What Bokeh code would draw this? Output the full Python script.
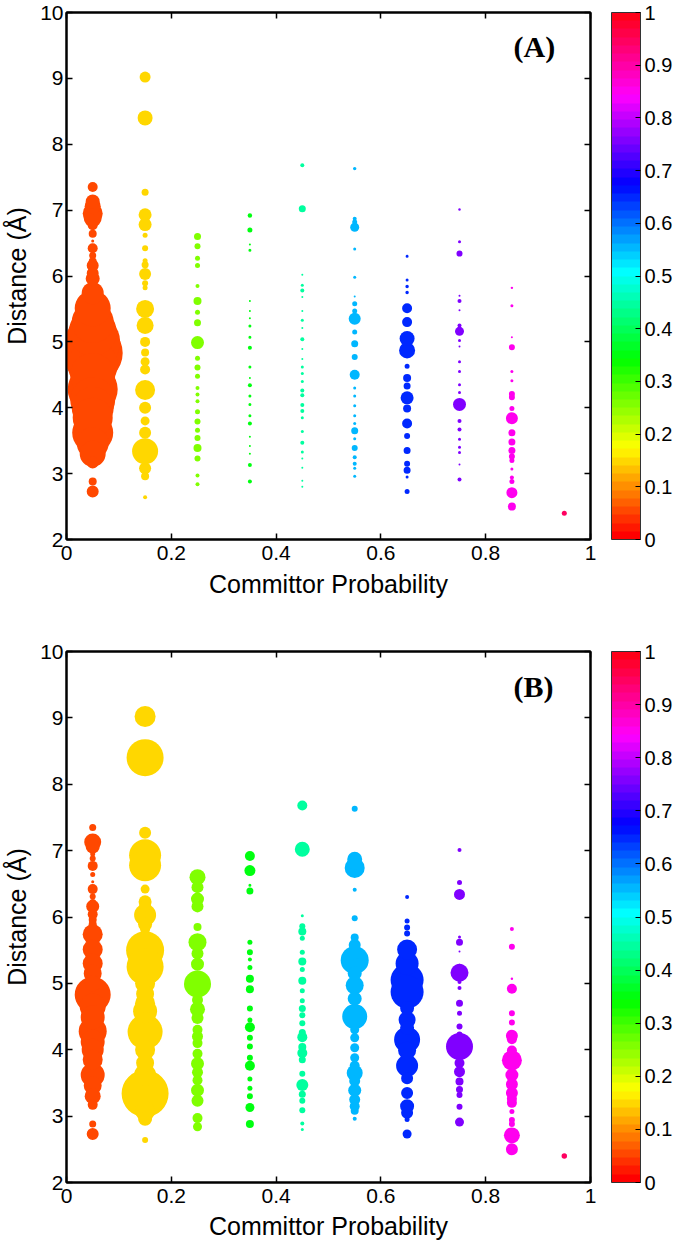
import colorsys
from bokeh.plotting import figure
from bokeh.models import (ColumnDataSource, Range1d, LinearAxis, FixedTicker,
                          CustomJSTickFormatter, LinearColorMapper, ColorBar, Label,
                          CustomLabelingPolicy)
from bokeh.layouts import column
from bokeh.transform import linear_cmap
from bokeh.embed import file_html
from bokeh.resources import INLINE

# ---------------- data ----------------
committor_bins = [0.05, 0.15, 0.25, 0.35, 0.45, 0.55, 0.65, 0.75, 0.85, 0.95]

dist_05 = [7.35, 7.13, 7.06, 6.95, 6.88, 6.77, 6.64, 6.53, 6.42, 6.31, 6.22, 6.16, 6.04, 5.96, 5.89, 5.74,
           5.51, 5.30, 5.15, 5.00, 4.83, 4.65, 4.49, 4.28, 4.12, 4.00, 3.85, 3.62, 3.46, 3.30, 3.17, 2.88, 2.73]
pop_a_05 = [100, 196, 256, 400, 324, 100, 64, 9, 100, 49, 64, 144, 144, 196, 36, 484,
            1296, 1764, 2304, 3025, 3600, 2500, 2025, 2500, 2025, 1764, 1600, 1681, 1024, 676, 144, 64, 144]
pop_b_05 = [49, 289, 196, 25, 36, 100, 25, 9, 100, 36, 49, 169, 100, 64, 64, 400,
            400, 400, 324, 256, 1296, 676, 576, 784, 576, 484, 400, 576, 324, 256, 100, 49, 144]

dist_15 = [9.02, 8.40, 7.27, 6.93, 6.78, 6.62, 6.42, 6.23, 6.17, 6.03, 5.89, 5.82, 5.50, 5.25, 5.00, 4.84,
           4.70, 4.58, 4.27, 4.00, 3.80, 3.62, 3.34, 3.08, 2.96, 2.64]
pop_a_15 = [121, 225, 49, 169, 169, 25, 36, 25, 49, 144, 36, 25, 324, 289, 100, 64,
            81, 100, 400, 144, 81, 144, 676, 144, 64, 16]
pop_b_15 = [441, 1369, 144, 1024, 1024, 64, 81, 169, 144, 484, 196, 100, 1444, 1369, 400, 324,
            400, 576, 1225, 400, 324, 484, 2209, 400, 196, 36]

dist_25 = [6.60, 6.45, 6.27, 6.16, 5.85, 5.62, 5.45, 5.29, 4.99, 4.75, 4.61, 4.48, 4.30, 4.20, 4.10, 3.94,
           3.79, 3.66, 3.54, 3.39, 3.23, 2.97, 2.84]
pop_a_25 = [49, 36, 25, 25, 16, 64, 25, 49, 169, 25, 36, 25, 16, 16, 16, 25, 36, 25, 36, 64, 36, 16, 16]
pop_b_25 = [256, 144, 169, 144, 64, 324, 144, 169, 729, 121, 225, 144, 100, 121, 100, 100,
            169, 121, 100, 169, 144, 100, 81]

dist_35 = [6.92, 6.70, 6.48, 6.39, 5.62, 5.47, 5.36, 5.24, 5.07, 4.91, 4.62, 4.45, 4.34, 4.18, 4.05, 3.88,
           3.76, 3.56, 3.42, 3.30, 3.13, 2.88]
pop_a_35 = [20, 25, 4, 9, 4, 4, 4, 9, 9, 16, 9, 4, 16, 9, 9, 9, 16, 4, 4, 4, 16, 16]
pop_b_35 = [100, 121, 9, 49, 25, 36, 16, 25, 64, 64, 36, 25, 100, 36, 36, 36, 100, 25, 25, 36, 81, 64]

dist_45 = [7.68, 7.02, 6.02, 5.86, 5.78, 5.68, 5.47, 5.33, 5.21, 5.04, 4.89, 4.74, 4.62, 4.52, 4.40, 4.26,
           4.19, 4.04, 3.95, 3.85, 3.64, 3.47, 3.33, 3.23, 3.09, 2.89, 2.80]
pop_a_45 = [16, 49, 4, 9, 16, 4, 4, 9, 4, 16, 4, 4, 9, 9, 9, 16, 16, 16, 16, 9, 9, 16, 9, 4, 4, 4, 4]
pop_b_45 = [100, 225, 9, 36, 64, 25, 25, 64, 25, 64, 25, 25, 49, 36, 36, 49,
            100, 64, 100, 49, 36, 144, 49, 36, 36, 16, 9]

dist_55 = [7.63, 6.87, 6.82, 6.74, 6.41, 5.98, 5.69, 5.58, 5.47, 5.35, 5.15, 4.97, 4.77, 4.50, 4.30, 4.18,
           4.03, 3.88, 3.76, 3.65, 3.53, 3.39, 3.25, 3.15, 3.08, 2.96]
pop_a_55 = [12, 16, 25, 81, 9, 9, 4, 25, 25, 144, 25, 49, 36, 100, 9, 9, 9, 9, 9, 49, 9, 36, 16, 16, 9, 9]
pop_b_55 = [36, 225, 196, 400, 16, 36, 64, 144, 196, 784, 196, 324, 196, 625, 81, 81,
            81, 81, 100, 256, 121, 169, 121, 100, 64, 16]

dist_65 = [6.30, 5.94, 5.84, 5.75, 5.51, 5.30, 5.05, 4.87, 4.63, 4.45, 4.33, 4.15, 3.99, 3.76, 3.57, 3.35,
           3.15, 3.05, 2.95, 2.73]
pop_a_65 = [9, 9, 12, 12, 100, 100, 225, 256, 25, 64, 49, 169, 64, 100, 36, 49, 36, 49, 9, 25]
pop_b_65 = [16, 25, 36, 36, 400, 529, 1089, 1089, 196, 289, 196, 676, 324, 484, 144, 144, 196, 144, 25, 81]

dist_75 = [7.01, 6.52, 6.34, 5.70, 5.62, 5.48, 5.25, 5.16, 5.02, 4.93, 4.70, 4.55, 4.35, 4.23, 4.05, 3.80,
           3.67, 3.52, 3.40, 3.32, 3.14, 2.91]
pop_a_75 = [6, 9, 36, 4, 16, 4, 16, 81, 9, 4, 9, 9, 9, 9, 169, 16, 16, 9, 9, 9, 4, 16]
pop_b_75 = [16, 25, 121, 9, 49, 4, 36, 324, 16, 16, 49, 25, 36, 36, 729, 100, 121, 64, 49, 36, 36, 81]

dist_85 = [5.82, 5.55, 5.07, 4.92, 4.55, 4.41, 4.21, 4.16, 3.99, 3.84, 3.62, 3.48, 3.35, 3.26, 3.20, 3.07,
           2.94, 2.88, 2.71, 2.50]
pop_a_85 = [6, 9, 4, 36, 9, 9, 36, 36, 25, 144, 49, 49, 49, 36, 25, 9, 16, 25, 121, 64]
pop_b_85 = [16, 36, 6, 100, 36, 36, 144, 100, 100, 400, 169, 144, 144, 100, 100, 25, 36, 36, 256, 144]

dist_95 = [2.40]
pop_a_95 = [25]
pop_b_95 = [30]

x_ticks = [0, 0.2, 0.4, 0.6, 0.8, 1]
y_ticks = [2, 3, 4, 5, 6, 7, 8, 9, 10]
cbar_ticks = [0, 0.1, 0.2, 0.3, 0.4, 0.5, 0.6, 0.7, 0.8, 0.9, 1]

dists = [dist_05, dist_15, dist_25, dist_35, dist_45, dist_55, dist_65, dist_75, dist_85, dist_95]
pops_a = [pop_a_05, pop_a_15, pop_a_25, pop_a_35, pop_a_45, pop_a_55, pop_a_65, pop_a_75, pop_a_85, pop_a_95]
pops_b = [pop_b_05, pop_b_15, pop_b_25, pop_b_35, pop_b_45, pop_b_55, pop_b_65, pop_b_75, pop_b_85, pop_b_95]

# ---------------- styling ----------------
FONT = "Liberation Sans"
# MATLAB hsv(64) colormap
palette = []
for i in range(64):
    r, g, b = colorsys.hsv_to_rgb(i / 64.0, 1.0, 1.0)
    palette.append("#%02x%02x%02x" % (round(r * 255), round(g * 255), round(b * 255)))
mapper = LinearColorMapper(palette=palette, low=0, high=1)
fmt = CustomJSTickFormatter(code="return String(Math.round(tick*10)/10);")
no_fmt = CustomJSTickFormatter(code="return '';")
no_labels = CustomLabelingPolicy(code="for (const i of Array.from(indices)) { indices.unset(i) }")

FRAME_W = 524


def build_source(pops):
    xs, ys, ss = [], [], []
    for xb, d, pp in zip(committor_bins, dists, pops):
        for yv, pv in zip(d, pp):
            xs.append(xb)
            ys.append(yv)
            ss.append(pv ** 0.5)
    order = sorted(range(len(xs)), key=lambda k: -ss[k])
    return ColumnDataSource(dict(x=[xs[k] for k in order], y=[ys[k] for k in order],
                                 s=[ss[k] for k in order]))


def style_axis(ax, ticker, show_labels=True):
    ax.ticker = FixedTicker(ticks=ticker)
    ax.axis_line_color = "black"
    ax.axis_line_width = 2
    ax.major_tick_line_color = "black"
    ax.major_tick_line_width = 1.5
    ax.major_tick_in = 6
    ax.major_tick_out = 0
    ax.minor_tick_line_color = None
    if show_labels:
        ax.formatter = fmt
        ax.major_label_text_font = FONT
        ax.major_label_text_font_size = "21px"
        ax.major_label_text_color = "black"
    else:
        ax.formatter = no_fmt
        ax.major_label_policy = no_labels
        ax.major_label_text_font_size = "1px"
        ax.major_label_standoff = 0


def make_panel(pops, tag, frame_h, top_border, bottom_border, xlabel_standoff):
    p = figure(frame_width=FRAME_W, frame_height=frame_h, x_range=Range1d(0, 1), y_range=Range1d(2, 10),
               output_backend="svg", toolbar_location=None, min_border_left=57,
               min_border_top=top_border, min_border_bottom=bottom_border, min_border_right=83)
    p.background_fill_color = "white"
    p.border_fill_color = "white"
    p.outline_line_color = "black"
    p.outline_line_width = 2
    p.grid.visible = False

    src = build_source(pops)
    p.scatter("x", "y", size="s", source=src, line_color=None,
              fill_color=linear_cmap("x", palette, 0, 1))

    style_axis(p.xaxis[0], x_ticks)
    style_axis(p.yaxis[0], y_ticks)
    p.xaxis[0].major_label_standoff = 6
    p.yaxis[0].major_label_standoff = 3
    p.xaxis[0].axis_label = "Committor Probability"
    p.yaxis[0].axis_label = "Distance (Å)"
    for ax in (p.xaxis[0], p.yaxis[0]):
        ax.axis_label_text_font = FONT
        ax.axis_label_text_font_size = "25px"
        ax.axis_label_text_font_style = "normal"
        ax.axis_label_text_color = "black"
    p.xaxis[0].axis_label_standoff = xlabel_standoff
    p.yaxis[0].axis_label_standoff = 6

    top = LinearAxis()
    style_axis(top, x_ticks, show_labels=False)
    p.add_layout(top, "above")
    right = LinearAxis()
    style_axis(right, y_ticks, show_labels=False)
    p.add_layout(right, "right")

    cb = ColorBar(color_mapper=mapper, ticker=FixedTicker(ticks=cbar_ticks), formatter=fmt,
                  width=29, height=frame_h, padding=0, margin=0, location=(21, 0),
                  major_label_text_font=FONT, major_label_text_font_size="20px",
                  major_label_text_color="black", label_standoff=4,
                  major_tick_in=5, major_tick_out=0, major_tick_line_color="black",
                  minor_tick_line_color=None, bar_line_color="#333333", bar_line_width=1,
                  border_line_color=None, background_fill_color=None)
    p.add_layout(cb, "right")

    p.add_layout(Label(x=0.853, y=9.48, text=tag, text_font="Liberation Serif",
                       text_font_style="bold", text_font_size="30px", text_color="black",
                       text_baseline="middle", text_align="left"))
    return p


pa = make_panel(pops_a, "(A)", 527, 12, 67, 7)
pb = make_panel(pops_b, "(B)", 531, 45, 50, 6)

layout = column(pa, pb, spacing=0)
open("out.html", "w").write(file_html(layout, INLINE))
